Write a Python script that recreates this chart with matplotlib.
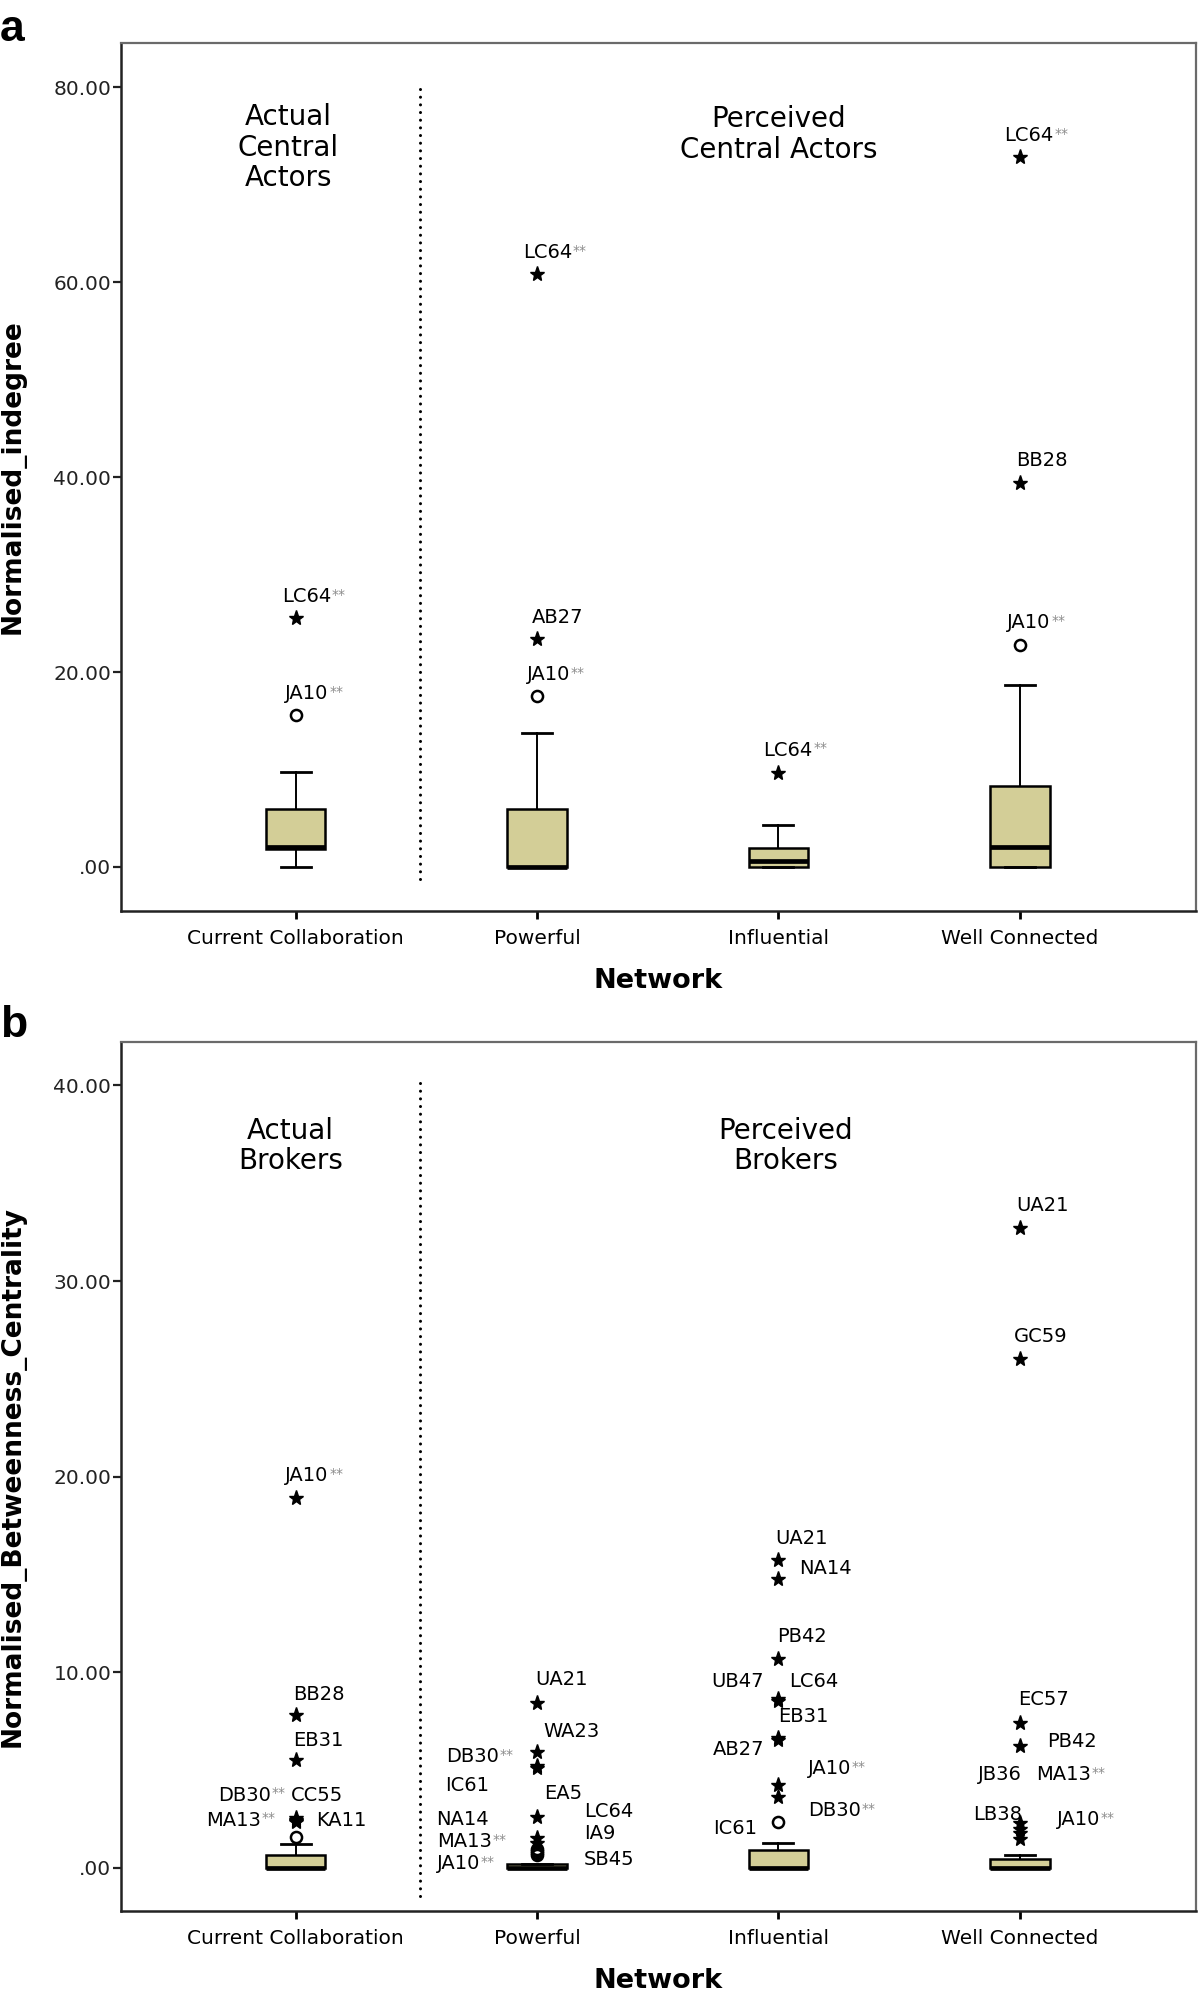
import matplotlib
matplotlib.use("Agg")
import matplotlib.pyplot as plt
from matplotlib.ticker import FuncFormatter, FixedLocator

plt.rcParams['font.family'] = ['DejaVu Sans']

# ---------------- data ----------------
categories = ["Current Collaboration", "Powerful", "Influential", "Well Connected"]

# Panel a: Normalised indegree
a_q1 = [1.8, 0.0, 0.0, 0.0]
a_median = [2.05, 0.0, 0.62, 2.05]
a_q3 = [5.9, 5.9, 1.9, 8.3]
a_whislo = [0.0, 0.0, 0.0, 0.0]
a_whishi = [9.75, 13.7, 4.3, 18.7]

a_out_cat = [0, 0, 1, 1, 1, 2, 3, 3, 3]
a_out_val = [25.5, 15.6, 60.8, 23.4, 17.5, 9.6, 72.8, 39.4, 22.8]
a_out_kind = ['*', 'o', '*', '*', 'o', '*', '*', '*', 'o']
a_out_name = ['LC64', 'JA10', 'LC64', 'AB27', 'JA10', 'LC64', 'LC64', 'BB28', 'JA10']
a_out_flag = [True, True, True, False, True, True, True, False, True]

# Panel b: Normalised betweenness centrality
b_q1 = [0.0, 0.0, 0.0, 0.0]
b_median = [0.0, 0.0, 0.0, 0.0]
b_q3 = [0.66, 0.2, 0.92, 0.44]
b_whislo = [0.0, 0.0, 0.0, 0.0]
b_whishi = [1.25, 0.2, 1.26, 0.66]

b_out_cat = [0, 0, 0, 0, 0, 0, 0, 0,
             1, 1, 1, 1, 1, 1, 1, 1, 1, 1, 1,
             2, 2, 2, 2, 2, 2, 2, 2, 2, 2,
             3, 3, 3, 3, 3, 3, 3, 3]
b_out_val = [18.9, 7.8, 5.5, 2.55, 2.45, 2.4, 2.35, 1.6,
             8.42, 5.95, 5.21, 5.1, 2.62, 1.52, 1.3, 0.95, 0.85, 0.75, 0.65,
             15.74, 14.75, 10.67, 8.65, 8.55, 6.65, 6.55, 4.25, 3.65, 2.37,
             32.7, 26.0, 7.4, 6.24, 2.3, 2.0, 1.8, 1.5]
b_out_kind = ['*', '*', '*', '*', '*', '*', '*', 'o',
              '*', '*', '*', '*', '*', '*', '*', 'o', 'o', 'o', 'o',
              '*', '*', '*', '*', '*', '*', '*', '*', '*', 'o',
              '*', '*', '*', '*', '*', '*', '*', '*']
b_out_name = ['JA10', 'BB28', 'EB31', 'DB30', 'CC55', 'MA13', 'KA11', '',
              'UA21', 'WA23', 'DB30', 'IC61', 'EA5', 'NA14', 'MA13', 'LC64', 'IA9', 'SB45', 'JA10',
              'UA21', 'NA14', 'PB42', 'UB47', 'LC64', 'EB31', 'AB27', 'JA10', 'DB30', 'IC61',
              'UA21', 'GC59', 'EC57', 'PB42', 'JB36', 'MA13', 'LB38', 'JA10']
b_out_flag = [True, False, False, True, False, True, False, False,
              False, False, True, False, False, False, True, False, False, False, True,
              False, False, False, False, False, False, False, True, True, False,
              False, False, False, False, False, True, False, True]

# ---------------- layout of the labels (offset in points, alignment) ----------------
a_lab_off = [(-10, 15.6), (-7.3, 15.6), (-10, 16), (-3.7, 15.6), (-7.3, 15.8),
             (-11, 16.8), (-11, 16), (-3, 16), (-9, 16)]
a_lab_ha = ['left'] * 9

b_lab_off = [(-7.3, 16.5), (-1.7, 14.9), (-1.7, 14.4), (-17.8, 16.6), (-3.4, 18), (-25, 0.7), (14.6, 1.4), (0, 0),
             (-1.2, 16.8), (4.3, 14.4), (-27.6, 6.7), (-34.8, -12.1), (5.3, 16.8), (-34.8, 13.7), (-32.4, 0.6),
             (34, 27.1), (34, 13), (34, -4.8), (-40.8, -5.8),
             (-2.4, 15.6), (14.9, 7.9), (-0.7, 16.3), (-10.3, 12.3), (7.7, 13.7), (0, 15.3), (-10.3, -7.3),
             (20.9, 11.9), (21.6, -10.2), (-15.1, -4.8),
             (-2.7, 16.5), (-4.6, 16.5), (-1.2, 16.8), (19.7, 3.1), (-30, 34.6), (11.5, 38.8), (-33.6, 13.5), (26.4, 14)]
b_lab_ha = ['left', 'left', 'left', 'right', 'left', 'right', 'left', 'left',
            'left', 'left', 'right', 'right', 'left', 'right', 'right', 'left', 'left', 'left', 'right',
            'left', 'left', 'left', 'right', 'left', 'left', 'right', 'left', 'left', 'right',
            'left', 'left', 'left', 'left', 'left', 'left', 'left', 'left']

BOX = '#d3ce97'
positions = [1, 2, 3, 4]


def fmt(v, pos):
    s = f"{v:.2f}"
    if s.startswith('0'):
        s = s[1:]
    if s.startswith('-0'):
        s = '-' + s[2:]
    return s


def draw_panel(ax, q1, med, q3, wlo, whi, oc, ov, ok, on, of, offs, has,
               ylim, yticks, ylabel, divider_y):
    stats = []
    for i in range(4):
        stats.append(dict(med=med[i], q1=q1[i], q3=q3[i], whislo=wlo[i],
                          whishi=whi[i], fliers=[]))
    ax.bxp(stats, positions=positions, widths=0.248, capwidths=0.124,
           patch_artist=True, showfliers=False, manage_ticks=False,
           boxprops=dict(facecolor=BOX, edgecolor='black', linewidth=1.8),
           medianprops=dict(color='black', linewidth=3.4, solid_capstyle='butt'),
           whiskerprops=dict(color='black', linewidth=1.4),
           capprops=dict(color='black', linewidth=2.0))
    for c, v, k, n, f, o, ha in zip(oc, ov, ok, on, of, offs, has):
        x = positions[c]
        if k == '*':
            ax.plot([x], [v], marker='*', ms=11, color='black', ls='none', zorder=5)
        else:
            ax.plot([x], [v], marker='o', ms=8, mfc='none', mec='black', mew=1.8,
                    ls='none', zorder=5)
        if n:
            t = ax.annotate(n, xy=(x, v), xytext=o, textcoords='offset points',
                            ha=ha, va='center', fontsize=14, zorder=6)
            if f:
                ax.annotate('**', xy=(1.0, 0.95), xycoords=t, xytext=(0.5, 0),
                            textcoords='offset points', ha='left', va='top',
                            fontsize=10, color='#8c8c8c')
    # dotted divider between actual and perceived networks
    ax.plot([1.515, 1.515], divider_y, color='black', lw=2.2,
            linestyle=(0, (0.01, 2.5)), dash_capstyle='round', zorder=1)

    ax.set_xlim(0.277, 4.729)
    ax.set_ylim(*ylim)
    ax.set_xticks(positions)
    ax.set_xticklabels(categories, fontsize=14.5)
    ax.yaxis.set_major_locator(FixedLocator(yticks))
    ax.yaxis.set_major_formatter(FuncFormatter(fmt))
    ax.tick_params(axis='y', labelsize=14.5, length=6, width=1.6, pad=1,
                   direction='out', colors='#222222', labelcolor='#222222')
    ax.tick_params(axis='x', length=6, width=2.0, pad=7, direction='out')
    for s in ['left', 'bottom']:
        ax.spines[s].set_color('#222222')
        ax.spines[s].set_linewidth(1.8)
    for s in ['top', 'right']:
        ax.spines[s].set_color('#6a6a6a')
        ax.spines[s].set_linewidth(1.6)
    ax.set_xlabel('Network', fontsize=19.5, fontweight='bold')
    ax.set_ylabel(ylabel, fontsize=19, fontweight='bold')
    ax.xaxis.set_label_coords(0.5, -70 / 868)
    ax.xaxis.label.set_va('center')
    ax.yaxis.set_label_coords(-0.1005, 0.5)
    ax.yaxis.label.set_va('center')


fig = plt.figure(figsize=(12, 19.95), dpi=100)
ax_a = fig.add_axes([0.1008, 0.5435, 0.8958, 0.4348])
ax_b = fig.add_axes([0.1008, 0.0421, 0.8958, 0.4357])

draw_panel(ax_a, a_q1, a_median, a_q3, a_whislo, a_whishi,
           a_out_cat, a_out_val, a_out_kind, a_out_name, a_out_flag,
           a_lab_off, a_lab_ha, (-4.49, 84.5), [0, 20, 40, 60, 80],
           'Normalised_indegree', [-1.26, 79.9])
ax_a.text(0.97, 73.8, 'Actual\nCentral\nActors', ha='center', va='center',
          fontsize=20, linespacing=1.13)
ax_a.text(3.0, 75.1, 'Perceived\nCentral Actors', ha='center', va='center',
          fontsize=20, linespacing=1.13)

draw_panel(ax_b, b_q1, b_median, b_q3, b_whislo, b_whishi,
           b_out_cat, b_out_val, b_out_kind, b_out_name, b_out_flag,
           b_lab_off, b_lab_ha, (-2.2, 42.23), [0, 10, 20, 30, 40],
           'Normalised_Betweenness_Centrality', [-1.43, 40.4])
ax_b.text(0.98, 36.9, 'Actual\nBrokers', ha='center', va='center',
          fontsize=20, linespacing=1.13)
ax_b.text(3.03, 36.9, 'Perceived\nBrokers', ha='center', va='center',
          fontsize=20, linespacing=1.13)

fig.text(0.0, 1 - 41 / 1995, 'a', fontsize=32, fontweight='bold',
         family=['Liberation Sans', 'DejaVu Sans'], va='baseline', ha='left')
fig.text(0.0, 1 - 1037 / 1995, 'b', fontsize=32, fontweight='bold',
         family=['Liberation Sans', 'DejaVu Sans'], va='baseline', ha='left')

fig.savefig('out.png', dpi=100, facecolor='white')
